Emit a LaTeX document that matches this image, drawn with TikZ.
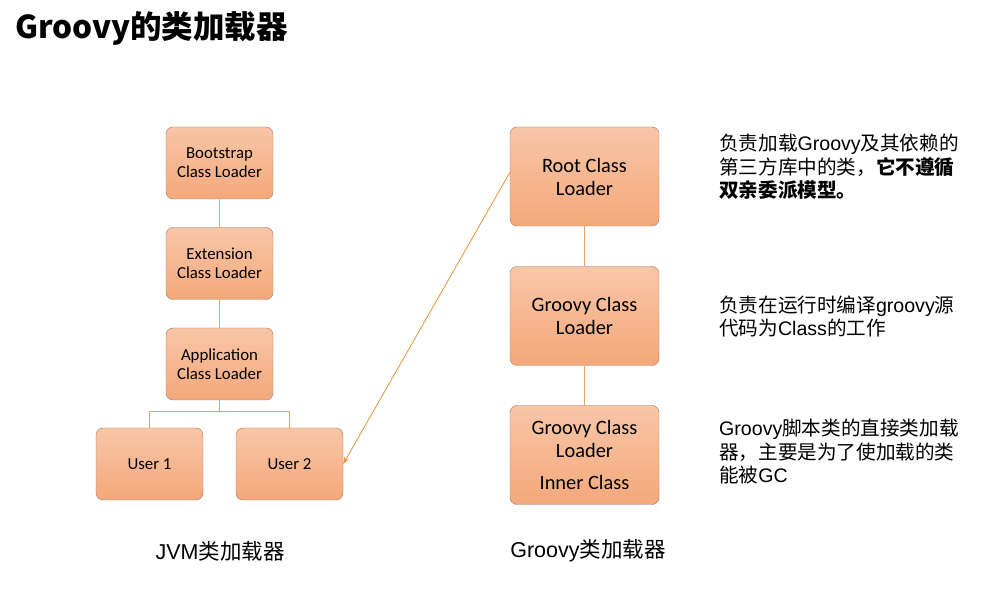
\documentclass[tikz,border=0pt]{standalone}
\usepackage{fontspec}
\setmainfont{Carlito}
\newfontfamily\cjkfont{Noto Sans CJK SC}
\newfontfamily\latfont{Liberation Sans}
\usetikzlibrary{arrows.meta}
\definecolor{boxtop}{RGB}{248,198,168}
\definecolor{boxbottom}{RGB}{244,168,122}
\definecolor{boxedge}{RGB}{163,118,98}
\definecolor{treecol}{RGB}{236,162,92}
\definecolor{arrowcol}{RGB}{232,145,60}
\newcommand\lat[1]{{\latfont #1}}
\begin{document}
\begin{tikzpicture}[x=1pt,y=-1pt,
    loader/.style={draw=boxedge, rounded corners=7pt, top color=boxtop, bottom color=boxbottom,
      minimum width=107pt, minimum height=72pt, inner sep=0pt, align=center,
      font=\fontsize{16.8}{19}\selectfont},
    bigloader/.style={loader, minimum width=149pt, minimum height=99pt,
      font=\fontsize{20.4}{23}\selectfont},
    note/.style={anchor=west, align=left, inner sep=0pt,
      font=\cjkfont\fontsize{19.6}{23.5}\selectfont},
    caption/.style={inner sep=0pt, font=\cjkfont\fontsize{21.5}{24}\selectfont},
    link/.style={draw=treecol, line width=1pt}]
  \useasboundingbox[fill=white] (0,0) rectangle (1002,593);

  \node[anchor=west, inner sep=0pt, font=\cjkfont\bfseries\fontsize{31.5}{36}\selectfont] (title) at (15,28) {Groovy的类加载器};

  % JVM side
  \node[loader] (boot) at (219.5,163) {Bootstrap\\Class Loader};
  \node[loader] (ext) at (219.5,263.5) {Extension\\Class Loader};
  \node[loader] (app) at (219.5,364) {Application\\Class Loader};
  \node[loader] (user1) at (149.5,464) {User 1};
  \node[loader] (user2) at (289.5,464) {User 2};
  \draw[link] (boot) -- (ext);
  \draw[link] (ext) -- (app);
  \draw[link] (app.south) -- ++(0,11) coordinate (fork);
  \draw[link] (fork) -| (user1.north);
  \draw[link] (fork) -| (user2.north);

  % Groovy side
  \node[bigloader] (root) at (584.5,176.5) {Root Class\\Loader};
  \node[bigloader] (gcl) at (584.5,316) {Groovy Class\\Loader};
  \node[bigloader] (inner) at (584.5,455) {Groovy Class\\Loader\\[9pt]Inner Class};
  \draw[link] (root) -- (gcl);
  \draw[link] (gcl) -- (inner);
  \draw[draw=arrowcol, line width=0.8pt, -{Stealth[length=7pt,width=5pt]}] ([yshift=4pt]root.west) -- (user2.east);

  % notes
  \node[note] (note1) at (719,167) {负责加载\lat{Groovy}及其依赖的\\第三方库中的类，\textbf{它不遵循}\\\textbf{双亲委派模型。}};
  \node[note] (note2) at (719,316.5) {负责在运行时编译\lat{groovy}源\\代码为\lat{Class}的工作};
  \node[note] (note3) at (719,452) {\lat{Groovy}脚本类的直接类加载\\器，主要是为了使加载的类\\能被\lat{GC}};

  \node[caption] (jvmcap) at (220,551) {\lat{JVM}类加载器};
  \node[caption] (gcap) at (588,551) {\lat{Groovy}类加载器};
\end{tikzpicture}
\end{document}
